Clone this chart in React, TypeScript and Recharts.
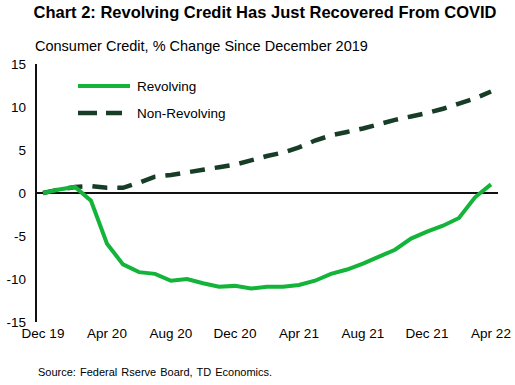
import React from 'react'
import { LineChart, Line, XAxis, YAxis, ReferenceLine } from 'recharts'

// 月份标签 Dec 19 .. Apr 22
const months = [
  'Dec 19', 'Jan 20', 'Feb 20', 'Mar 20', 'Apr 20', 'May 20', 'Jun 20', 'Jul 20',
  'Aug 20', 'Sep 20', 'Oct 20', 'Nov 20', 'Dec 20', 'Jan 21', 'Feb 21', 'Mar 21',
  'Apr 21', 'May 21', 'Jun 21', 'Jul 21', 'Aug 21', 'Sep 21', 'Oct 21', 'Nov 21',
  'Dec 21', 'Jan 22', 'Feb 22', 'Mar 22', 'Apr 22',
]

const revolving = [
  0, 0.4, 0.7, -0.9, -5.9, -8.3, -9.2, -9.4, -10.2, -10.0, -10.5, -10.9, -10.8,
  -11.1, -10.9, -10.9, -10.7, -10.2, -9.4, -8.9, -8.2, -7.4, -6.6, -5.3, -4.5,
  -3.8, -2.9, -0.5, 1.0,
]

const nonRevolving = [
  0, 0.4, 0.7, 0.8, 0.6, 0.6, 1.2, 1.9, 2.1, 2.4, 2.7, 3.0, 3.3, 3.8, 4.3, 4.7,
  5.3, 6.1, 6.7, 7.1, 7.5, 8.0, 8.5, 8.9, 9.3, 9.8, 10.4, 11.0, 11.8,
]

const yTicks = [-15, -10, -5, 0, 5, 10, 15]

const GREEN = '#14b43a'
const DARK = '#173d27'
const FONT = 'Arial, "Liberation Sans", sans-serif'

const data = months.map((m, i) => ({
  month: m,
  revolving: revolving[i],
  nonRevolving: nonRevolving[i],
}))

// 图例：画在图表上层
function LegendBox() {
  return (
    <svg width={200} height={50} style={{ position: 'absolute', left: 76, top: 78 }}>
      <line x1={2} y1={8} x2={54} y2={8} stroke={GREEN} strokeWidth={4} />
      <text x={61} y={13} fontSize={13.5} fill="#000" fontFamily={FONT}>Revolving</text>
      <line x1={2} y1={35} x2={46} y2={35} stroke={DARK} strokeWidth={4.5} strokeDasharray="19 9" />
      <text x={61} y={40} fontSize={13.5} fill="#000" fontFamily={FONT}>Non-Revolving</text>
    </svg>
  )
}

export default function App() {
  return (
    <div style={{ position: 'absolute', left: 0, top: 0, width: 515, height: 385, background: '#fff', fontFamily: FONT }}>
      <div style={{ position: 'absolute', left: 0, width: 530, top: 3, textAlign: 'center', fontWeight: 'bold', fontSize: 16.5, color: '#000' }}>
        Chart 2: Revolving Credit Has Just Recovered From COVID
      </div>
      <div style={{ position: 'absolute', left: 35, top: 38, fontSize: 14.5, color: '#000' }}>
        Consumer Credit, % Change Since December 2019
      </div>
      <div style={{ position: 'absolute', left: 38, top: 366, fontSize: 11, color: '#000', wordSpacing: 1 }}>
        Source: Federal Rserve Board, TD Economics.
      </div>
      <LineChart width={515} height={385} data={data} margin={{ top: 64, right: 17, bottom: 33, left: 0 }}>
        <XAxis
          dataKey="month"
          interval={3}
          axisLine={false}
          tickLine={false}
          padding={{ left: 7, right: 7 }}
          tick={{ fontSize: 13.5, fill: '#000', fontFamily: FONT }}
          tickMargin={0}
        />
        <YAxis
          domain={[-15, 15]}
          ticks={yTicks}
          width={36}
          tickLine={false}
          axisLine={{ stroke: '#111', strokeWidth: 2 }}
          tick={{ fontSize: 13.5, fill: '#000', fontFamily: FONT }}
          tickMargin={4}
        />
        <ReferenceLine y={0} stroke="#111" strokeWidth={2} />
        <Line
          dataKey="nonRevolving"
          stroke={DARK}
          strokeWidth={4.5}
          strokeDasharray="15 10"
          dot={false}
          isAnimationActive={false}
        />
        <Line
          dataKey="revolving"
          stroke={GREEN}
          strokeWidth={4}
          dot={false}
          isAnimationActive={false}
        />
      </LineChart>
      <LegendBox />
    </div>
  )
}
